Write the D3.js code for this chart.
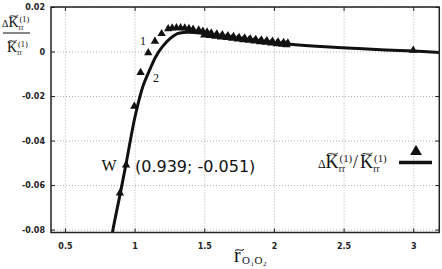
<!DOCTYPE html>
<html>
<head>
<meta charset="utf-8">
<script src="https://cdn.jsdelivr.net/npm/d3@7"></script>
<style>
  body { margin: 0; background: #fff; }
  .grid line { stroke: #b0b0b0; stroke-dasharray: 1,2; }
  .grid path { display: none; }
  .tick-lbl text { font-family: "DejaVu Sans", sans-serif; font-weight: bold; font-size: 8px; fill: #222; }
  .serif { font-family: "Liberation Serif", serif; fill: #111; }
  .sans { font-family: "DejaVu Sans", sans-serif; fill: #111; }
</style>
</head>
<body>
<div id="chart"></div>
<script>
// tick values and labels
const xTicks = [0.5, 1, 1.5, 2, 2.5, 3];
const xTickLabels = ["0.5", "1", "1.5", "2", "2.5", "3"];
const yTicks = [0.02, 0, -0.02, -0.04, -0.06, -0.08];
const yTickLabels = ["0.02", "0", "-0.02", "-0.04", "-0.06", "-0.08"];

// fitted curve
const curveR = [0.835, 0.845, 0.895, 0.938, 1.003, 1.06, 1.11, 1.153, 1.2, 1.254, 1.307, 1.376, 1.45, 1.55, 1.7, 1.9, 2.1, 2.4, 2.7, 3.0, 3.19];
const curveK = [-0.0845, -0.080, -0.0644, -0.0507, -0.0293, -0.0156, -0.0080, -0.0022, 0.0022, 0.0058, 0.0080, 0.0087, 0.0084, 0.0077, 0.0065, 0.0049, 0.0034, 0.0020, 0.0010, 0.0002, -0.0004];

// computed points (triangles)
const pointR = [0.895, 0.939, 0.998, 1.043, 1.098, 1.146, 1.194, 1.241,
  1.27, 1.30, 1.33, 1.36, 1.39, 1.42, 1.46, 1.49, 1.52, 1.55, 1.59, 1.63, 1.67, 1.71, 1.75, 1.79, 1.83, 1.87, 1.91, 1.95, 1.99, 2.03, 2.07, 2.10,
  1.50, 1.54, 1.58, 1.62, 1.66, 1.70, 1.74, 1.78, 1.82, 1.86, 1.90, 1.94, 1.98, 2.02, 2.06, 2.09,
  3.0];
const pointK = [-0.0636, -0.051, -0.0246, -0.0095, -0.0006, 0.0046, 0.0080, 0.0102,
  0.0105, 0.0106, 0.0106, 0.0105, 0.0103, 0.0100, 0.0096, 0.0091, 0.0087, 0.0083, 0.0079, 0.0075, 0.0071, 0.0067, 0.0063, 0.0060, 0.0057, 0.0054, 0.0051, 0.0048, 0.0046, 0.0043, 0.0040, 0.0038,
  0.0074, 0.0071, 0.0068, 0.0065, 0.0062, 0.0059, 0.0056, 0.0053, 0.0050, 0.0047, 0.0044, 0.0041, 0.0038, 0.0035, 0.0032, 0.0030,
  0.0005];

const W = { r: 0.939, k: -0.051, label: "(0.939; -0.051)" };

const svg = d3.select("#chart").append("svg")
  .attr("width", 442)
  .attr("height", 269);

const margin = {top: 7, left: 51, right: 2.7, bottom: 36.5};
const width = 442 - margin.left - margin.right;
const height = 269 - margin.top - margin.bottom;

const x = d3.scaleLinear().domain([0.4, 3.187]).range([0, width]);
const y = d3.scaleLinear().domain([-0.0813, 0.02]).range([height, 0]);

const g = svg.append("g").attr("transform", `translate(${margin.left},${margin.top})`);

// grid
g.append("g").attr("class", "grid")
  .attr("transform", `translate(0,${height})`)
  .call(d3.axisBottom(x).tickValues(xTicks).tickSize(-height).tickFormat(""));
g.append("g").attr("class", "grid")
  .call(d3.axisLeft(y).tickValues(yTicks).tickSize(-width).tickFormat(""));

// clip
svg.append("clipPath").attr("id", "clip")
  .append("rect").attr("width", width).attr("height", height);

const plot = g.append("g").attr("clip-path", "url(#clip)");

const line = d3.line()
  .x(d => x(d[0]))
  .y(d => y(d[1]))
  .curve(d3.curveCatmullRom);

plot.append("path")
  .datum(curveR.map((r, i) => [r, curveK[i]]))
  .attr("fill", "none")
  .attr("stroke", "#111")
  .attr("stroke-width", 3)
  .attr("d", line);

const tri = d3.symbol(d3.symbolTriangle, 30);
plot.selectAll(".pt")
  .data(pointR.map((r, i) => [r, pointK[i]]))
  .enter().append("path")
  .attr("class", "pt")
  .attr("transform", d => `translate(${x(d[0])},${y(d[1])})`)
  .attr("d", tri)
  .attr("fill", "#111");

// axes with inward ticks
function tickAxis(axis, transform, labels) {
  const a = g.append("g").attr("class", "tick-lbl").attr("transform", transform).call(axis);
  a.select(".domain").remove();
  a.selectAll("line").attr("stroke", "#222");
  if (!labels) a.selectAll("text").remove();
  return a;
}
tickAxis(d3.axisBottom(x).tickValues(xTicks).tickSizeInner(-4).tickSizeOuter(0).tickPadding(11)
  .tickFormat((d, i) => xTickLabels[i]), `translate(0,${height})`, true);
tickAxis(d3.axisTop(x).tickValues(xTicks).tickSizeInner(-4).tickSizeOuter(0), "translate(0,0)", false);
tickAxis(d3.axisLeft(y).tickValues(yTicks).tickSizeInner(-4).tickSizeOuter(0).tickPadding(6)
  .tickFormat((d, i) => yTickLabels[i]), "translate(0,0)", true);
tickAxis(d3.axisRight(y).tickValues(yTicks).tickSizeInner(-4).tickSizeOuter(0), `translate(${width},0)`, false);

g.append("rect")
  .attr("width", width).attr("height", height)
  .attr("fill", "none").attr("stroke", "#222").attr("stroke-width", 1.5);

// text helpers
function txt(s, px, py, size, cls) {
  return svg.append("text").attr("x", px).attr("y", py)
    .attr("font-size", size).attr("class", cls || "serif").text(s);
}
// wide tilde accent
function tilde(cx, cy, w) {
  const h = w * 0.16;
  svg.append("path")
    .attr("d", `M${cx - w / 2},${cy + h * 0.6} C${cx - w / 4},${cy - h * 1.4} ${cx + w / 4},${cy + h * 1.4} ${cx + w / 2},${cy - h * 0.6}`)
    .attr("fill", "none").attr("stroke", "#111").attr("stroke-width", 1);
}
// K~ with sup (1), sub rr
function kTerm(px, base, size) {
  txt("K", px, base, size);
  tilde(px + size * 0.38, base - size * 0.78, size * 0.62);
  txt("(1)", px + size * 0.78, base - size * 0.36, size * 0.6);
  txt("rr", px + size * 0.74, base + size * 0.24, size * 0.52);
}

// y-axis label as fraction
txt("Δ", 2, 27, 10);
kTerm(8.5, 27, 14);
svg.append("line").attr("x1", 3).attr("x2", 30).attr("y1", 33).attr("y2", 33)
  .attr("stroke", "#111").attr("stroke-width", 1);
kTerm(7, 52, 14);

// x-axis label
txt("r", 234, 262, 20);
tilde(239.5, 250, 9);
txt("O", 242, 264, 11);
txt("1", 250.5, 266, 7);
txt("O", 254.5, 264, 11);
txt("2", 263, 266, 7);

// curve labels
txt("1", 140, 45, 12);
txt("2", 153, 82, 12);

// W point label
txt("W", 101.5, 170.5, 16);
txt(W.label, 135, 171.5, 16, "sans");

// legend
txt("Δ", 318, 168, 12);
kTerm(325.5, 168, 18);
txt("/", 353, 168, 18);
kTerm(360, 168, 18);
svg.append("path")
  .attr("transform", "translate(416,151.5)")
  .attr("d", d3.symbol(d3.symbolTriangle, 60)())
  .attr("fill", "#111");
svg.append("line").attr("x1", 399).attr("x2", 432).attr("y1", 162.5).attr("y2", 162.5)
  .attr("stroke", "#111").attr("stroke-width", 3.5);
</script>
</body>
</html>
